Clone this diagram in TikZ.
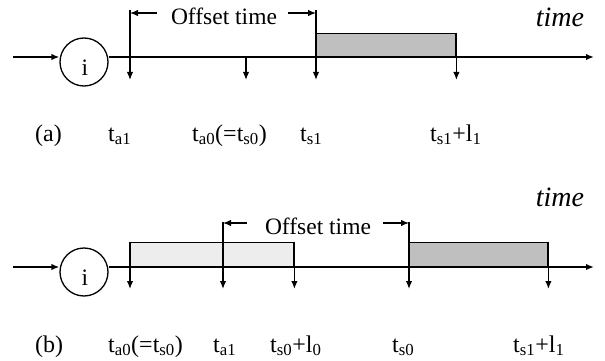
\documentclass[tikz,border=0pt]{standalone}
\usepackage{fontspec}
\setmainfont{Liberation Serif}
\usetikzlibrary{arrows.meta}
\begin{document}
\begin{tikzpicture}[
		x=1pt, y=-1pt,
		>={Latex[length=8pt,width=6.5pt]},
		axis/.style={draw, line width=1.6pt, ->},
		tick/.style={draw, line width=1.4pt, ->},
		offarrow/.style={draw, line width=1.2pt, ->},
		proc/.style={draw, circle, line width=1.3pt, minimum size=48pt, inner sep=0pt},
		burst/.style={draw, line width=1.4pt, inner sep=0pt, anchor=south west},
		lbl/.style={font=\fontsize{24}{28}\selectfont, inner sep=0pt, anchor=base west},
		offs/.style={font=\fontsize{23.5}{28}\selectfont, inner sep=0pt},
		timelbl/.style={font=\fontsize{28}{32}\selectfont\itshape, inner sep=0pt},
		]
		\useasboundingbox (0,0) rectangle (605,361);
		% (a)
		\coordinate (ina) at (13,57);
		\coordinate (outa) at (594,57);
		\coordinate (ya) at (0,80);
		\coordinate (topa1) at (130,10);
		\coordinate (tops1) at (316,10);
		\coordinate (ta0) at (246,57);
		\node[proc] (ia) at (84,62) {};
		\node[offs, anchor=base] (ila) at (85,75) {i};
		\node[burst, fill=black!25, minimum width=139pt, minimum height=23pt] (ba) at (316,57) {};
		\draw[axis] (ina) -- (ina -| ia.west);
		\draw[axis] (ia.east |- ina) -- (outa);
		\draw[tick] (topa1) -- (topa1 |- ya);
		\draw[tick] (ta0) -- (ta0 |- ya);
		\draw[tick] (tops1) -- (tops1 |- ya);
		\draw[tick] (ba.north east) -- (ba.north east |- ya);
		\node[offs] (offa) at (224,16) {Offset time};
		\draw[offarrow] ([xshift=-14pt,yshift=3pt]offa.west) -- ([yshift=3pt]offa.west -| topa1);
		\draw[offarrow] ([xshift=11pt,yshift=3pt]offa.east) -- ([yshift=3pt]offa.east -| tops1);
		\node[timelbl] (timea) at (560,17) {time};
		\node[lbl] (capa) at (35,141) {(a)};
		\node[lbl] (lta1) at (108,141) {t\textsubscript{a1}};
		\node[lbl] (lta0) at (192,141) {t\textsubscript{a0}(=t\textsubscript{s0})};
		\node[lbl] (lts1) at (300,141) {t\textsubscript{s1}};
		\node[lbl] (lte1) at (430,141) {t\textsubscript{s1}+l\textsubscript{1}};
		% (b)
		\coordinate (inb) at (13,267);
		\coordinate (outb) at (594,267);
		\coordinate (yb) at (0,289);
		\coordinate (topb1) at (223,222);
		\coordinate (tops0) at (409,222);
		\node[proc] (ib) at (84,272) {};
		\node[offs, anchor=base] (ilb) at (85,285) {i};
		\node[burst, fill=black!7, minimum width=163pt, minimum height=24pt] (b0) at (130,267) {};
		\node[burst, fill=black!25, minimum width=138pt, minimum height=24pt] (b1) at (409,267) {};
		\draw[axis] (inb) -- (inb -| ib.west);
		\draw[axis] (ib.east |- inb) -- (outb);
		\draw[tick] (b0.north west) -- (b0.north west |- yb);
		\draw[tick] (topb1) -- (topb1 |- yb);
		\draw[tick] (b0.north east) -- (b0.north east |- yb);
		\draw[tick] (tops0) -- (tops0 |- yb);
		\draw[tick] (b1.north east) -- (b1.north east |- yb);
		\node[offs] (offb) at (318,226) {Offset time};
		\draw[offarrow] ([xshift=-18pt,yshift=3pt]offb.west) -- ([yshift=3pt]offb.west -| topb1);
		\draw[offarrow] ([xshift=12pt,yshift=3pt]offb.east) -- ([yshift=3pt]offb.east -| tops0);
		\node[timelbl] (timeb) at (560,197) {time};
		\node[lbl] (capb) at (35,352) {(b)};
		\node[lbl] (ltb0) at (108,352) {t\textsubscript{a0}(=t\textsubscript{s0})};
		\node[lbl] (ltb1) at (213,352) {t\textsubscript{a1}};
		\node[lbl] (ltbe0) at (270,352) {t\textsubscript{s0}+l\textsubscript{0}};
		\node[lbl] (lts0) at (392,352) {t\textsubscript{s0}};
		\node[lbl] (ltbe1) at (513,352) {t\textsubscript{s1}+l\textsubscript{1}};
	\end{tikzpicture}
\end{document}
